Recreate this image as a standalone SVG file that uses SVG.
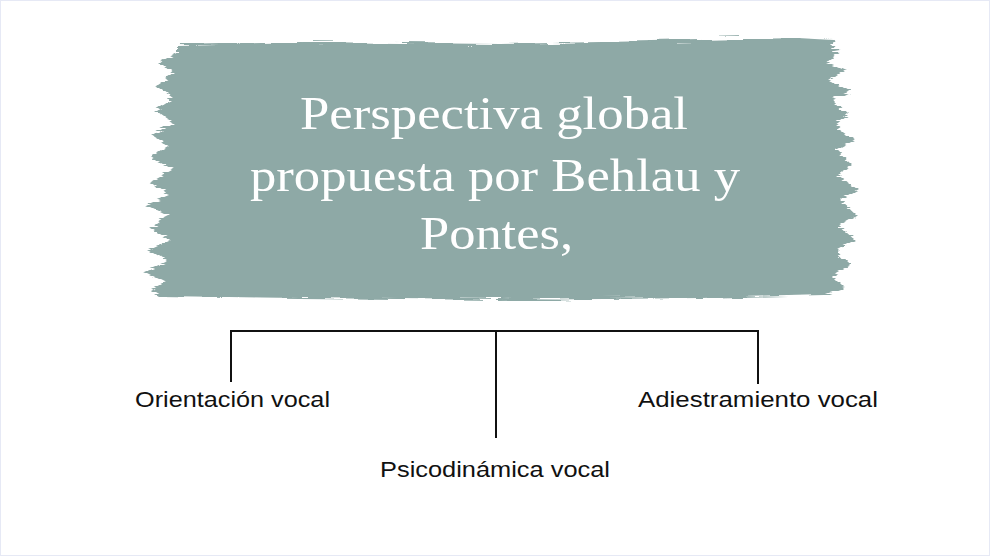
<svg xmlns="http://www.w3.org/2000/svg" width="990" height="556" viewBox="0 0 990 556">
  <style>
    .title { font-family: "Liberation Serif", "DejaVu Serif", serif; font-size: 46px; fill: #ffffff; }
    .label { font-family: "Liberation Sans", Arial, sans-serif; font-size: 21.5px; fill: #111111; }
    .conn { stroke: #111111; stroke-width: 2; fill: none; }
  </style>
  <defs>
    <filter id="rough" x="-5%" y="-5%" width="110%" height="110%">
      <feTurbulence type="fractalNoise" baseFrequency="0.02 0.35" numOctaves="2" seed="3" result="n"/>
      <feDisplacementMap in="SourceGraphic" in2="n" scale="10" xChannelSelector="R" yChannelSelector="G"/>
    </filter>
  </defs>
  <rect x="0.5" y="0.5" width="989" height="555" fill="#ffffff" stroke="#e6e9f5" stroke-width="1"/>
  <g id="title-node">
    <path filter="url(#rough)" fill="#8ea9a6" d="M178,45 L300,42 L500,44 L700,40 L800,38 L835,40 L828,50 L840,52 L826,62 L845,70 L830,80 L850,92 L832,100 L848,115 L834,125 L855,140 L836,150 L852,165 L838,175 L858,190 L840,200 L856,215 L838,225 L855,240 L836,250 L850,265 L832,275 L845,288 L825,295 L700,298 L500,300 L300,298 L160,296 L150,290 L165,282 L145,272 L168,262 L148,250 L170,240 L150,228 L168,216 L146,205 L170,195 L150,182 L172,170 L150,158 L170,146 L152,134 L172,122 L155,110 L173,98 L157,86 L175,74 L160,62 L178,52 Z"/>
    <text class="title" x="300" y="129" textLength="388" lengthAdjust="spacingAndGlyphs">Perspectiva global</text>
    <text class="title" x="250" y="191" textLength="490" lengthAdjust="spacingAndGlyphs">propuesta por Behlau y</text>
    <text class="title" x="420" y="249" textLength="153" lengthAdjust="spacingAndGlyphs">Pontes,</text>
  </g>
  <g id="connectors">
    <polyline class="conn" points="231,382 231,331 758,331 758,384"/>
    <line class="conn" x1="496" y1="331" x2="496" y2="438"/>
  </g>
  <g id="node-orientacion">
    <text class="label" x="135" y="407" textLength="195" lengthAdjust="spacingAndGlyphs">Orientación vocal</text>
  </g>
  <g id="node-psicodinamica">
    <text class="label" x="380" y="477" textLength="230" lengthAdjust="spacingAndGlyphs">Psicodinámica vocal</text>
  </g>
  <g id="node-adiestramiento">
    <text class="label" x="638" y="407" textLength="240" lengthAdjust="spacingAndGlyphs">Adiestramiento vocal</text>
  </g>
</svg>
